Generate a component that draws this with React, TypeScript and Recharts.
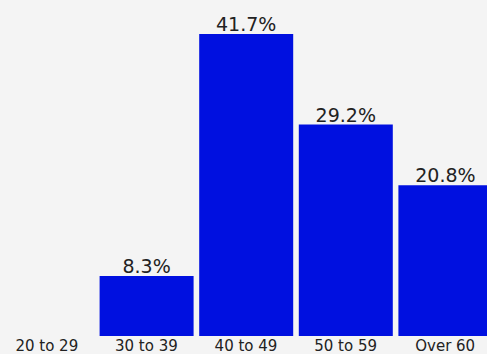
import React from 'react';
import { BarChart, Bar, XAxis, YAxis, LabelList } from 'recharts';

const categories = ['20 to 29', '30 to 39', '40 to 49', '50 to 59', 'Over 60'];
const shares = [0, 8.3, 41.7, 29.2, 20.8];

const data = categories.map((c, i) => ({ name: c, value: shares[i] }));

export default function App() {
  return (
    <div
      style={{
        position: 'fixed',
        left: 0,
        top: 0,
        width: 487,
        height: 354,
        overflow: 'hidden',
        background: '#f4f4f4',
        fontFamily: '"DejaVu Sans", sans-serif',
      }}
    >
      <div style={{ position: 'absolute', left: -3, top: 0 }}>
        <BarChart
          width={498}
          height={354}
          data={data}
          margin={{ top: 34, right: 0, bottom: 0, left: 0 }}
          barCategoryGap={3}
        >
          <XAxis
            dataKey="name"
            axisLine={false}
            tickLine={false}
            tickSize={0}
            tickMargin={4}
            height={18}
            interval={0}
            tick={{ fill: '#222', fontSize: 15, fontFamily: '"DejaVu Sans", sans-serif' }}
          />
          <YAxis hide domain={[0, 'dataMax']} />
          <Bar dataKey="value" fill="#0010e0" isAnimationActive={false}>
            <LabelList
              dataKey="value"
              position="top"
              offset={3}
              formatter={(v: number) => (v ? `${v}%` : '')}
              style={{ fill: '#222', fontSize: 19, fontFamily: '"DejaVu Sans", sans-serif' }}
            />
          </Bar>
        </BarChart>
      </div>
    </div>
  );
}
